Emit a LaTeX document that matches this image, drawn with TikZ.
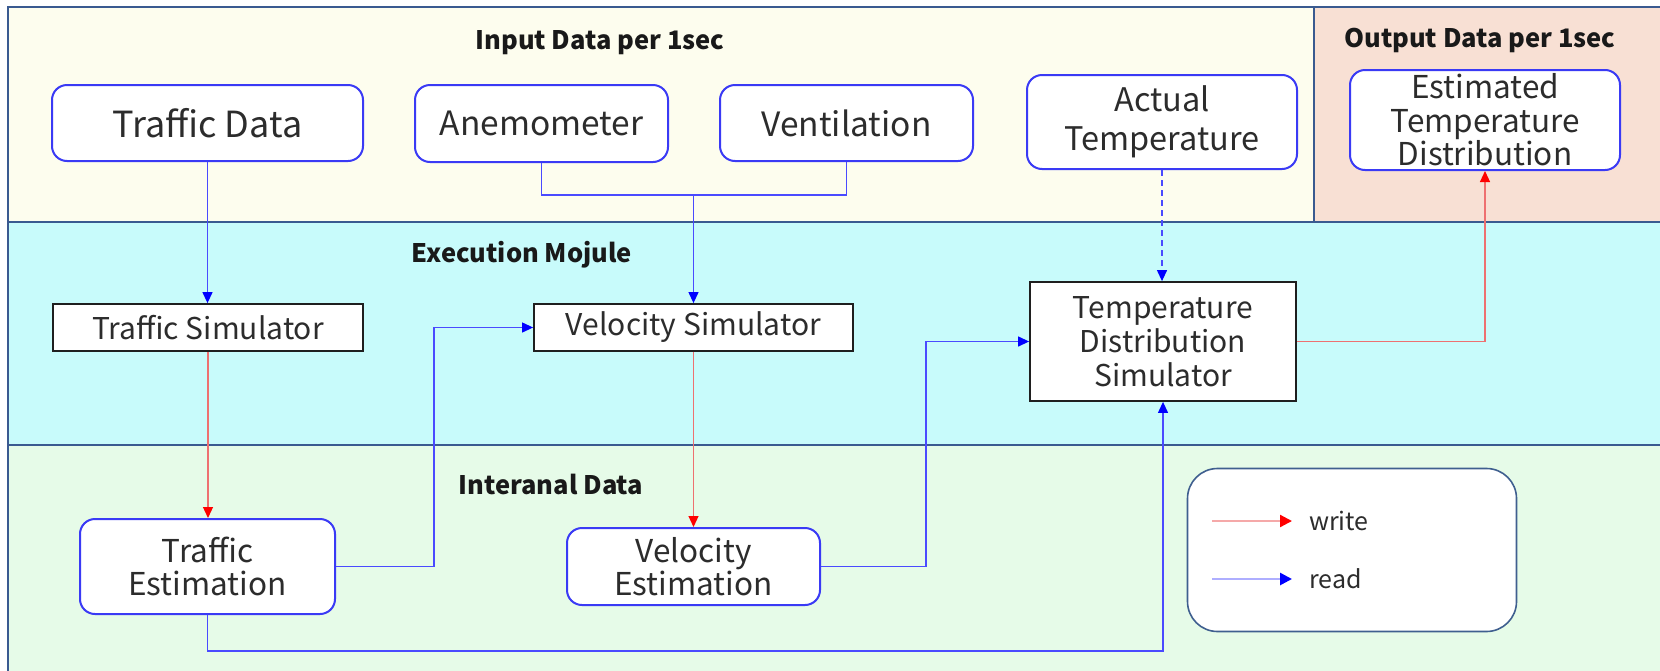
\documentclass[tikz,border=0pt]{standalone}
\usepackage{fontspec}
\setmainfont{Noto Sans CJK JP}
\usetikzlibrary{arrows.meta}

\definecolor{topfill}{HTML}{FDFDEE}
\definecolor{outfill}{HTML}{F8E0D4}
\definecolor{midfill}{HTML}{C8FBFB}
\definecolor{botfill}{HTML}{E6FBE8}
\definecolor{bandline}{HTML}{3A5A90}
\definecolor{boxblue}{HTML}{3A3AF5}
\definecolor{linkblue}{HTML}{4A4AFF}
\definecolor{headblue}{HTML}{0000FF}
\definecolor{linkred}{HTML}{EE7070}
\definecolor{headred}{HTML}{FF0000}
\definecolor{legline}{HTML}{3F5F8F}
\definecolor{txt}{HTML}{2C2C2C}

\newcommand{\fsbig}{\fontsize{36}{40}\selectfont}
\newcommand{\fsbigm}{\fontsize{33.5}{40}\selectfont}
\newcommand{\fsmid}{\fontsize{32.5}{38.5}\selectfont}
\newcommand{\fssmall}{\fontsize{31.5}{33.5}\selectfont}
\newcommand{\fssim}{\fontsize{30}{34}\selectfont}
\newcommand{\fstitle}{\fontsize{25.5}{30}\selectfont\bfseries}
\newcommand{\fslegend}{\fontsize{25}{28}\selectfont}

\begin{document}
\begin{tikzpicture}[x=1pt,y=-1pt,
  band/.style={draw=bandline, line width=1.6pt},
  datanode/.style={draw=boxblue, line width=2pt, fill=white, rounded corners=15pt,
    align=center, text=txt, inner sep=0pt},
  simnode/.style={draw=black!88, line width=1.8pt, fill=white, align=center,
    text=txt, inner sep=0pt},
  titletext/.style={text=black!90, inner sep=0pt, font=\fstitle},
  readlink/.style={draw=linkblue, line width=1.2pt,
    -{Triangle[length=11pt,width=10pt,color=headblue]}},
  readline/.style={draw=linkblue, line width=1.2pt},
  writelink/.style={draw=linkred, line width=1.2pt,
    -{Triangle[length=11pt,width=10pt,color=headred]}},
  legbox/.style={draw=legline, line width=1.6pt, fill=white, rounded corners=30pt, inner sep=0pt},
  legtext/.style={text=txt, inner sep=0pt, font=\fslegend, anchor=west}
]
\useasboundingbox (0,0) rectangle (1660,670);
\clip (0,0) rectangle (1660,670);

% background bands
\fill[white] (0,0) rectangle (1660,670);
\draw[band, fill=topfill] (8,7) rectangle (1314,222);
\draw[band, fill=outfill] (1314,7) rectangle (1690,222);
\draw[band, fill=midfill] (8,222) rectangle (1690,445);
\draw[band, fill=botfill] (8,445) rectangle (1690,700);

% band titles
\node[titletext] (tin)  at (600,43)  {Input Data per 1sec};
\node[titletext] (tout) at (1480,40) {Output Data per 1sec};
\node[titletext] (texe) at (522,255) {Execution Mojule};
\node[titletext] (tint) at (551,484) {Interanal Data};

% input data
\node[datanode, minimum width=311pt, minimum height=76pt, font=\fsbig] (tdata) at (207.5,123) {Traffic Data};
\node[datanode, minimum width=253pt, minimum height=77pt, font=\fsbigm] (anem) at (541.5,123.5) {Anemometer};
\node[datanode, minimum width=253pt, minimum height=76pt, font=\fsbigm] (vent) at (846.5,123) {Ventilation};
\node[datanode, minimum width=270pt, minimum height=94pt, font=\fsmid] (atemp) at (1162,122) {Actual\\Temperature};

% output data
\node[datanode, minimum width=270pt, minimum height=100pt, font=\fssmall] (etemp) at (1485,120) {Estimated\\Temperature\\Distribution};

% execution module
\node[simnode, minimum width=310pt, minimum height=47pt, font=\fssim] (tsim) at (208,327.5) {Traffic Simulator};
\node[simnode, minimum width=319pt, minimum height=47pt, font=\fssim] (vsim) at (693.5,327.5) {Velocity Simulator};
\node[simnode, minimum width=266pt, minimum height=119pt, font=\fssim] (tdsim) at (1163,341.5) {Temperature\\Distribution\\Simulator};

% internal data
\node[datanode, minimum width=255pt, minimum height=95pt, font=\fssmall] (test) at (207.5,566.5) {Traffic\\Estimation};
\node[datanode, minimum width=253pt, minimum height=77pt, font=\fssmall] (vest) at (693.5,566.5) {Velocity\\Estimation};

% legend
\node[legbox, minimum width=329pt, minimum height=163pt] (leg) at (1352,550) {};
\node[legtext] (wlab) at (1309,521) {write};
\node[legtext] (rlab) at (1309,579) {read};
\coordinate (ws) at (1212,521);
\coordinate (rs) at (1212,579);
\draw[draw=linkred!60, line width=2.2pt, -{Triangle[length=12pt,width=12pt,color=headred]}]
  (ws) -- ([xshift=-17pt]wlab.west);
\draw[draw=linkblue!45, line width=2.6pt, -{Triangle[length=12pt,width=12pt,color=headblue]}]
  (rs) -- ([xshift=-17pt]rlab.west);

% connector routing points
\coordinate (jv) at (693.5,195);
\coordinate (k1) at (434,327.5);
\coordinate (k2) at (926,341.5);
\coordinate (k3) at (207.5,651);

% reads from input data
\draw[readlink] (tdata.south) -- (tdata.south |- tsim.north);
\draw[readline] (anem.south) |- (vent.south |- jv) -- (vent.south);
\draw[readlink] (jv) -- (vsim.north);
\draw[readlink, dash pattern=on 6pt off 4pt] (atemp.south) -- (atemp.south |- tdsim.north);

% writes
\draw[writelink] (tsim.south) -- (tsim.south |- test.north);
\draw[writelink] (vsim.south) -- (vest.north);
\draw[writelink] (tdsim.east) -| (etemp.south);

% reads from internal data
\draw[readlink] (test.east) -| (k1) -- (vsim.west);
\draw[readlink] (vest.east) -| (k2) -- (tdsim.west);
\draw[readlink] (test.south) -- (k3) -| (tdsim.south);
\end{tikzpicture}
\end{document}
